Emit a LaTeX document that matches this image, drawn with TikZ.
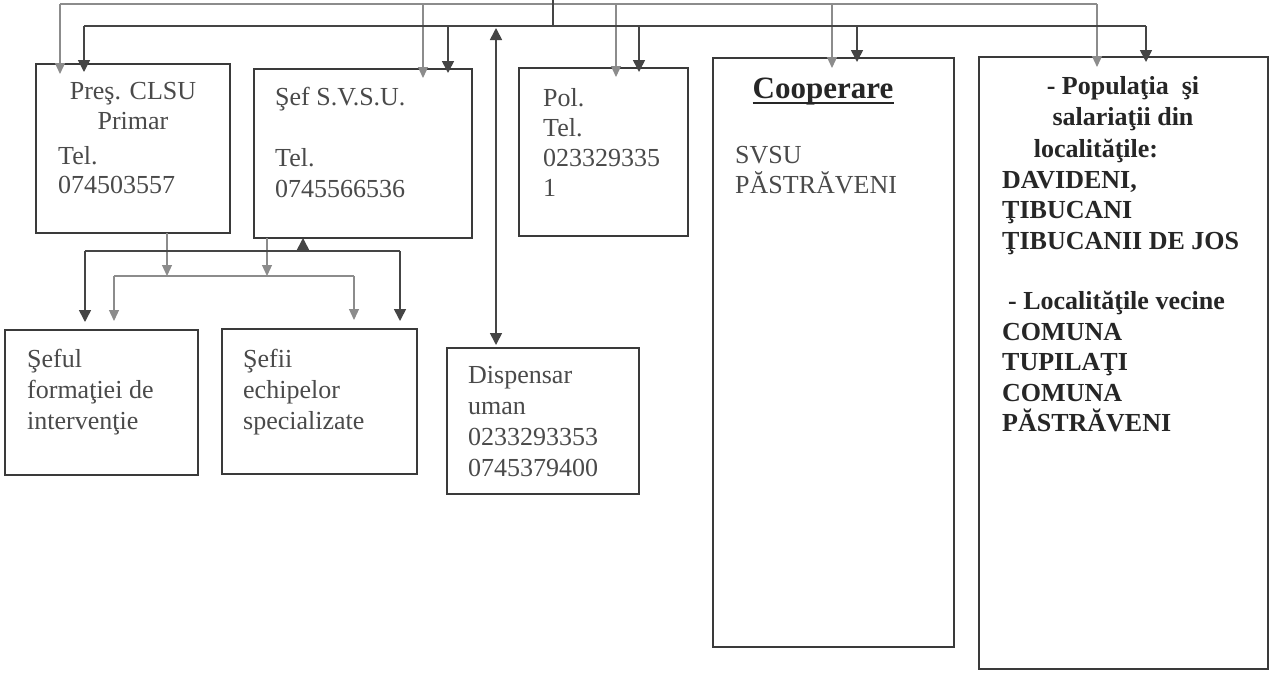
\documentclass[tikz,border=0pt]{standalone}
\usepackage{fontspec}
\setmainfont{Liberation Serif}
\usetikzlibrary{arrows.meta}
\definecolor{boxc}{HTML}{3A3A3A}
\definecolor{txtc}{HTML}{4A4A4A}
\definecolor{boldc}{HTML}{262626}
\definecolor{darkc}{HTML}{454545}
\definecolor{grayc}{HTML}{8C8C8C}
\begin{document}
\begin{tikzpicture}[x=1pt,y=-1pt,
  box/.style={draw=boxc,line width=1.2pt,inner sep=0pt,outer sep=0pt,anchor=north west},
  txt/.style={inner sep=0pt,align=left,anchor=north west,text=txtc,font=\fontsize{26}{30.5}\selectfont},
  ctxt/.style={txt,align=center,anchor=north},
  btxt/.style={txt,text=boldc,font=\fontsize{26}{30.5}\selectfont\bfseries},
  cbtxt/.style={btxt,align=center,anchor=north},
  dline/.style={draw=darkc,line width=1.6pt},
  gline/.style={draw=grayc,line width=1.2pt},
  darrow/.style={dline,-{Triangle[width=12pt,length=12pt]}},
  garrow/.style={gline,-{Triangle[width=10pt,length=11pt]}},
  dboth/.style={dline,{Triangle[width=12pt,length=12pt]}-{Triangle[width=12pt,length=12pt]}}
]
\useasboundingbox (0,0) rectangle (1271,675);
\fill[white] (0,0) rectangle (1271,675);

% boxes
\node[box,minimum width=194pt,minimum height=169pt] (pres) at (36,64) {};
\node[box,minimum width=218pt,minimum height=169pt] (sef) at (254,69) {};
\node[box,minimum width=169pt,minimum height=168pt] (pol) at (519,68) {};
\node[box,minimum width=241pt,minimum height=589pt] (coop) at (713,58) {};
\node[box,minimum width=289pt,minimum height=612pt] (pop) at (979,57) {};
\node[box,minimum width=193pt,minimum height=145pt] (seful) at (5,330) {};
\node[box,minimum width=195pt,minimum height=145pt] (sefii) at (222,329) {};
\node[box,minimum width=192pt,minimum height=146pt] (disp) at (447,348) {};

% texts
\node[ctxt] (presA) at (133,82) {Preş. CLSU\\Primar};
\node[txt,font=\fontsize{26}{29}\selectfont] (presB) at (58,146) {Tel.\\074503557};
\node[txt] (sefT) at (275,87) {Şef S.V.S.U.\\ \\Tel.\\0745566536};
\node[txt,font=\fontsize{26}{30}\selectfont] (polT) at (543,88) {Pol.\\Tel.\\023329335\\1};
\node[cbtxt,font=\fontsize{31}{34}\selectfont\bfseries,anchor=north] (coopA) at (823,78) {Cooperare};
\draw[draw=boldc,line width=1.8pt] ([yshift=-4pt]coopA.base west) -- ([yshift=-4pt]coopA.base east);
\node[txt,font=\fontsize{26}{30}\selectfont] (coopB) at (735,146) {SVSU\\PĂSTRĂVENI};
\node[cbtxt,font=\fontsize{26}{31.5}\selectfont\bfseries] (popA) at (1123,76) {- Populaţia \ şi\\salariaţii din\\localităţile:\hspace*{54pt}};
\node[btxt,font=\fontsize{26}{30.4}\selectfont\bfseries] (popB) at (1002,171) {DAVIDENI,\\ŢIBUCANI\\ŢIBUCANII DE JOS\\ \\\hspace*{6pt}- Localităţile vecine\\COMUNA\\TUPILAŢI\\COMUNA\\PĂSTRĂVENI};
\node[txt,font=\fontsize{26}{31}\selectfont] (sefulT) at (27,349) {Şeful\\formaţiei de\\intervenţie};
\node[txt,font=\fontsize{26}{31}\selectfont] (sefiiT) at (243,349) {Şefii\\echipelor\\specializate};
\node[txt,font=\fontsize{26}{31}\selectfont] (dispT) at (468,366) {Dispensar\\uman\\0233293353\\0745379400};

% top gray bus
\coordinate (g1) at (60,4);
\coordinate (g2) at (423,4);
\coordinate (g3) at (616,4);
\coordinate (g4) at (832,4);
\coordinate (g5) at (1097,4);
\draw[gline] (g1) -- (g5);
\draw[garrow,shorten >=-10pt] (g1) -- (g1 |- pres.north);
\draw[garrow,shorten >=-9pt] (g2) -- (g2 |- sef.north);
\draw[garrow,shorten >=-9pt] (g3) -- (g3 |- pol.north);
\draw[garrow,shorten >=-10pt] (g4) -- (g4 |- coop.north);
\draw[garrow,shorten >=-10pt] (g5) -- (g5 |- pop.north);

% dark bus
\coordinate (d1) at (84,26);
\coordinate (d2) at (448,26);
\coordinate (d3) at (639,26);
\coordinate (d4) at (857,26);
\coordinate (d5) at (1146,26);
\coordinate (dtop) at (553,0);
\coordinate (dmid) at (553,26);
\coordinate (dd) at (496,26);
\draw[dline] (d1) -- (d5);
\draw[dline,line width=1.2pt] (dtop) -- (dmid);
\draw[darrow,shorten >=-8pt] (d1) -- (d1 |- pres.north);
\draw[darrow,shorten >=-4pt] (d2) -- (d2 |- sef.north);
\draw[darrow,shorten >=-4pt] (d3) -- (d3 |- pol.north);
\draw[darrow,shorten >=-4pt] (d4) -- (d4 |- coop.north);
\draw[darrow,shorten >=-5pt] (d5) -- (d5 |- pop.north);
\draw[dboth,shorten <=3pt,shorten >=2pt] (dd |- disp.north) -- (dd);

% lower gray bus
\coordinate (pg) at (167,276);
\coordinate (sg) at (267,276);
\coordinate (gb1) at (114,276);
\coordinate (gb2) at (354,276);
\draw[garrow] (pg |- pres.south) -- (pg);
\draw[garrow] (sg |- sef.south) -- (sg);
\draw[gline] (gb1) -- (gb2);
\draw[garrow,shorten >=9pt] (gb1) -- (gb1 |- seful.north);
\draw[garrow,shorten >=9pt] (gb2) -- (gb2 |- sefii.north);

% lower dark bus
\coordinate (db1) at (85,251);
\coordinate (db2) at (400,251);
\coordinate (up) at (303,251);
\draw[dline] (db1) -- (db2);
\draw[darrow,shorten >=8pt] (db1) -- (db1 |- seful.north);
\draw[darrow,shorten >=8pt] (db2) -- (db2 |- sefii.north);
\draw[darrow] (up) -- (up |- sef.south);
\end{tikzpicture}
\end{document}
